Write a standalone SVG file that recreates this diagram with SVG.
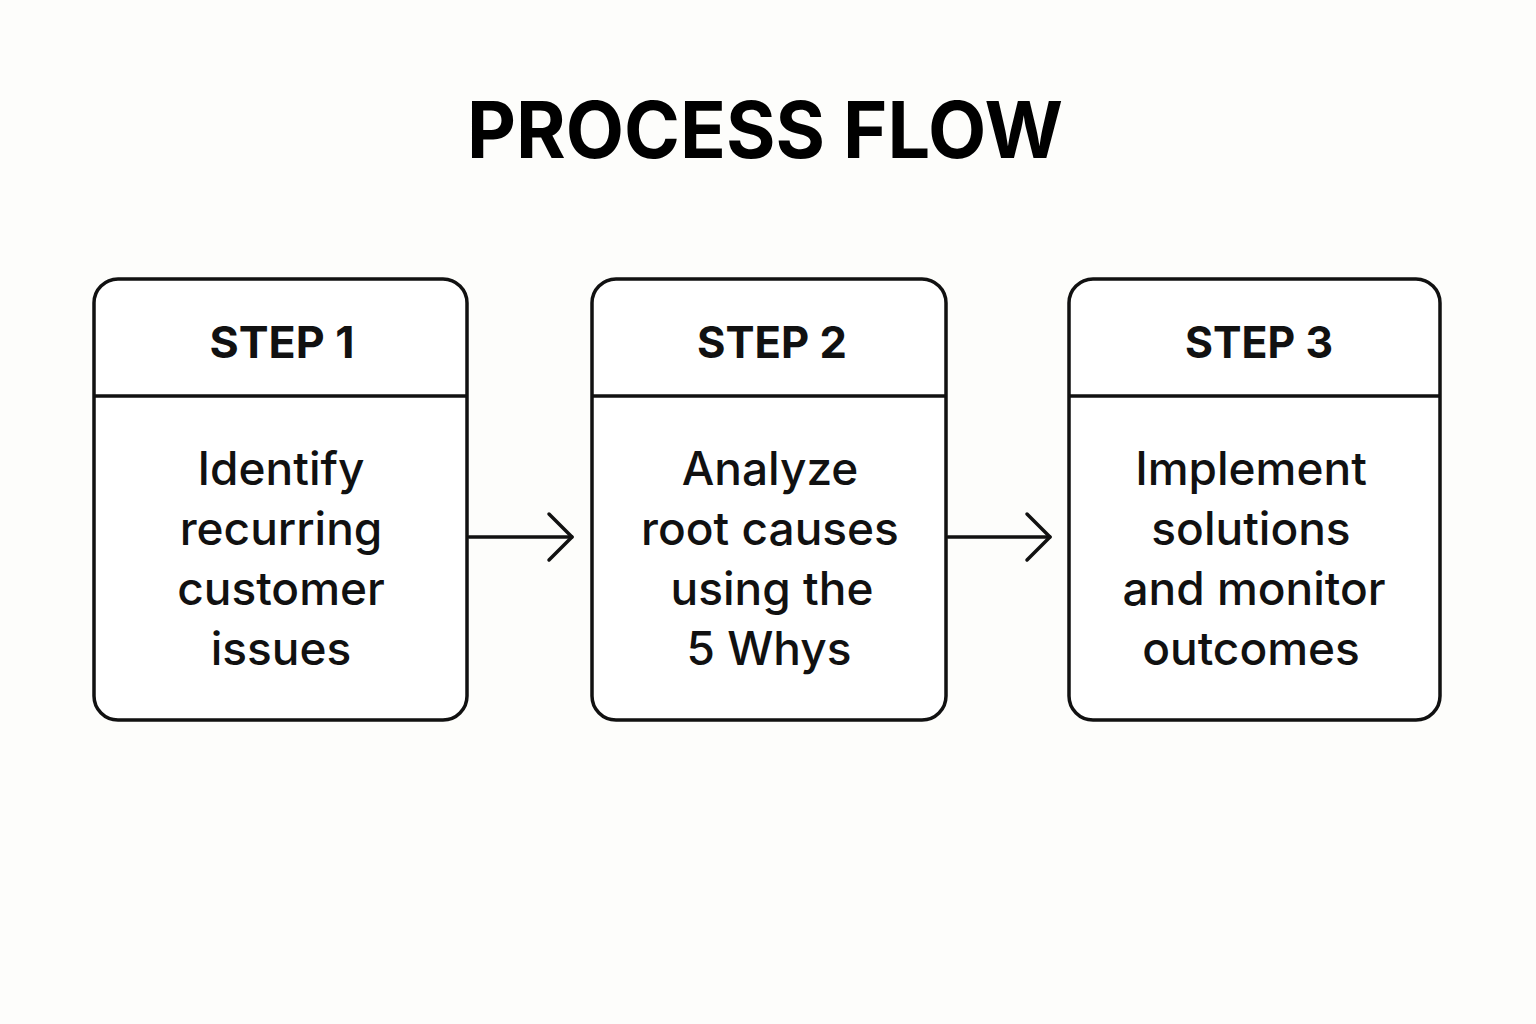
<svg xmlns="http://www.w3.org/2000/svg" width="1536" height="1024" viewBox="0 0 1536 1024">
<style>
.box{fill:#ffffff;stroke:#111;stroke-width:3.5}
.div{stroke:#111;stroke-width:3.5}
.title{font-family:Inter,"Liberation Sans",Arial,sans-serif;font-weight:bold;font-size:78px;fill:#000;text-anchor:middle}
.head{font-family:Inter,"Liberation Sans",Arial,sans-serif;font-weight:bold;font-size:44px;fill:#111;text-anchor:middle}
.body{font-family:Inter,"Liberation Sans",Arial,sans-serif;font-weight:500;font-size:46px;fill:#111;text-anchor:middle}
.conn{fill:none;stroke:#111;stroke-width:3.5;stroke-linecap:round;stroke-linejoin:round}
</style>
<rect width="1536" height="1024" fill="#fdfdfb"/>
<text class="title" x="765" y="158" textLength="596" lengthAdjust="spacingAndGlyphs">PROCESS FLOW</text>
<g id="step1">
<rect class="box" x="94" y="279" width="373" height="441" rx="24"/>
<line class="div" x1="94" y1="396" x2="467" y2="396"/>
<text class="head" x="282" y="358" textLength="145" lengthAdjust="spacingAndGlyphs">STEP 1</text>
<text class="body" x="281" y="485">Identify</text>
<text class="body" x="281" y="545">recurring</text>
<text class="body" x="281" y="605">customer</text>
<text class="body" x="281" y="665">issues</text>
</g>
<g id="step2">
<rect class="box" x="592" y="279" width="354" height="441" rx="24"/>
<line class="div" x1="592" y1="396" x2="946" y2="396"/>
<text class="head" x="772" y="358" textLength="150" lengthAdjust="spacingAndGlyphs">STEP 2</text>
<text class="body" x="770" y="485">Analyze</text>
<text class="body" x="770" y="545">root causes</text>
<text class="body" x="772" y="605">using the</text>
<text class="body" x="769" y="665">5 Whys</text>
</g>
<g id="step3">
<rect class="box" x="1069" y="279" width="371" height="441" rx="24"/>
<line class="div" x1="1069" y1="396" x2="1440" y2="396"/>
<text class="head" x="1259" y="358" textLength="148" lengthAdjust="spacingAndGlyphs">STEP 3</text>
<text class="body" x="1251" y="485">Implement</text>
<text class="body" x="1251" y="545">solutions</text>
<text class="body" x="1254" y="605">and monitor</text>
<text class="body" x="1251" y="665">outcomes</text>
</g>
<g id="connectors">
<line class="conn" x1="469" y1="537" x2="572" y2="537"/>
<polyline class="conn" points="549,514 572,537 549,560"/>
<line class="conn" x1="948" y1="537" x2="1050" y2="537"/>
<polyline class="conn" points="1027,514 1050,537 1027,560"/>
</g>
</svg>
